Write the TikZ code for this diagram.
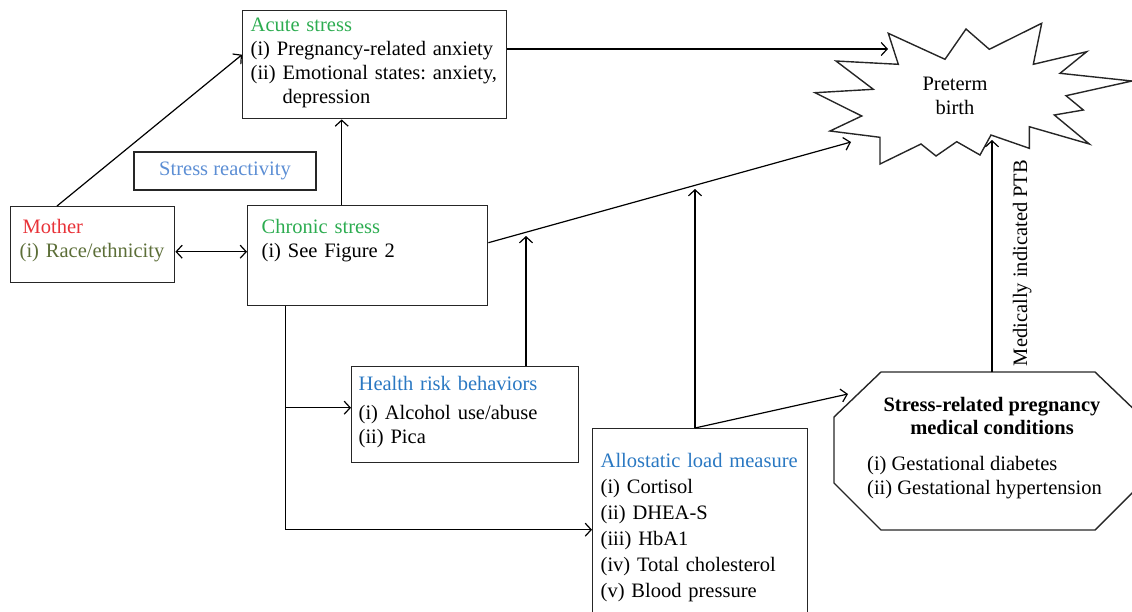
\documentclass[tikz,border=0pt]{standalone}
\usepackage{fontspec}
\setmainfont{Liberation Serif}
\usetikzlibrary{arrows.meta}
\definecolor{stressgreen}{RGB}{44,172,80}
\definecolor{motherred}{RGB}{232,50,56}
\definecolor{raceolive}{RGB}{92,110,56}
\definecolor{reactblue}{RGB}{92,142,212}
\definecolor{headblue}{RGB}{42,120,194}
\frenchspacing
\tikzset{
    flowbox/.style = {
        draw=black!85,
        line width=1.4pt,
        rectangle,
        anchor=north west,
        align=left,
        inner xsep=8pt,
        inner ysep=4pt,
        text height=17pt
    },
    plaintext/.style = {
        inner sep=0pt
    },
    shapeline/.style = {
        draw=black!85,
        line width=1.4pt,
        line join=miter
    },
    link/.style = {
        line width=1.2pt,
        -{Straight Barb[length=6pt,width=13pt]}
    },
    twolink/.style = {
        line width=1.2pt,
        {Straight Barb[length=6pt,width=13pt]}-{Straight Barb[length=6pt,width=13pt]}
    }
}
\begin{document}
\begin{tikzpicture}[x=1pt, y=-1pt, font=\fontsize{20.5}{24}\selectfont]
    \useasboundingbox (0,0) rectangle (1132,611);

    % boxes
    \node [flowbox, text width=248pt, text depth=83pt] (acute) at (242,10)
        {\textcolor{stressgreen}{Acute stress}\\
         \mbox{(i) Pregnancy-related anxiety}\\
         \mbox{(ii) Emotional states: anxiety,}\\
         \hphantom{(ii)}\ depression};
    \node [draw=black!85, line width=1.4pt, minimum width=182pt, minimum height=38pt,
           text=reactblue] (reactivity) at (225,171) {Stress reactivity};
    \node [flowbox, inner xsep=9pt, text width=146pt, text height=23pt, text depth=45pt] (mother) at (10,206)
        {\hspace*{3pt}\textcolor{motherred}{Mother}\\
         \textcolor{raceolive}{(i) Race/ethnicity}};
    \node [flowbox, inner xsep=14pt, text width=212pt, text height=24pt, text depth=68pt] (chronic) at (247,205)
        {\textcolor{stressgreen}{Chronic stress}\\
         (i) See Figure 2};
    \node [flowbox, inner xsep=7pt, text width=213pt, text height=20pt, text depth=68pt] (health) at (351,366)
        {\textcolor{headblue}{Health risk behaviors}\\[5pt]
         (i) Alcohol use/abuse\\
         (ii) Pica};
    \node [flowbox, text width=199pt, text height=35pt, text depth=144pt,
           font=\fontsize{20.5}{26}\selectfont] (load) at (592,428)
        {\textcolor{headblue}{Allostatic load measure}\\
         (i) Cortisol\\
         (ii) DHEA-S\\
         (iii) HbA1\\
         (iv) Total cholesterol\\
         (v) Blood pressure};

    % octagon
    \draw [shapeline] (881,372) -- (1095,372) -- (1142,417) -- (1142,483)
        -- (1095,530) -- (881,530) -- (834,483) -- (834,417) -- cycle;
    \node [plaintext, align=center, font=\fontsize{20.5}{23}\selectfont\bfseries] (condtitle) at (992,416)
        {Stress-related pregnancy\\medical conditions};
    \node [plaintext, anchor=west, align=left] (condlist) at (867,478)
        {(i) Gestational diabetes\\(ii) Gestational hypertension};

    % burst
    \draw [shapeline] (888.3,33.3) -- (945,59.3) -- (966,29) -- (989.3,49.3)
        -- (1041.7,23.3) -- (1033.3,64.3) -- (1086.7,51.7) -- (1060,73.3)
        -- (1132,81) -- (1066,95.7) -- (1083.3,110) -- (1054.3,115)
        -- (1089.3,144) -- (1029.3,126.7) -- (1029.3,148.3) -- (991,135)
        -- (980,155) -- (956.7,141.7) -- (936,156) -- (921,144)
        -- (880,164) -- (880,137.3) -- (830,131) -- (861.7,116)
        -- (815,92.7) -- (873.3,89.3) -- (836,61) -- (898.3,64.3) -- cycle;
    \node [plaintext, align=center] (ptb) at (955,96) {Preterm\\birth};

    % end points
    \coordinate (burstleft) at (888,49);
    \coordinate (burstlow) at (851,142);
    \coordinate (burstbottom) at (992,140);
    \coordinate (octtop) at (992,372);
    \coordinate (octleft) at (848,394);
    \coordinate (healthtip) at (526,236);
    \coordinate (loadtip) at (695,189);
    \coordinate (branchtop) at ([xshift=-82pt]chronic.south);
    \coordinate (healthin) at ([yshift=7pt]health.west);
    \coordinate (loadin) at ([yshift=-7.5pt]load.west);

    % connectors
    \draw [link] (acute.east |- burstleft) -- (burstleft);
    \draw [link] ([xshift=47pt]mother.north west) -- ([yshift=10pt]acute.west);
    \draw [link] ([xshift=-26pt]chronic.north) -- ([xshift=-26pt]chronic.north |- acute.south);
    \draw [twolink] ([yshift=-7pt]mother.east) -- ([yshift=-7pt]mother.east -| chronic.west);
    \draw [link] ([yshift=13pt]chronic.east) -- (burstlow);
    \draw [link] (healthtip |- health.north) -- (healthtip);
    \draw [link] (loadtip |- load.north) -- (loadtip);
    \draw [link] (loadtip |- load.north) -- (octleft);
    \draw [link] (octtop) -- (burstbottom)
        node [sloped, below=17pt, pos=0.47] (medlabel) {Medically indicated PTB};
    \draw [link] (branchtop) |- (loadin);
    \draw [link] (branchtop |- healthin) -- (healthin);
\end{tikzpicture}
\end{document}
